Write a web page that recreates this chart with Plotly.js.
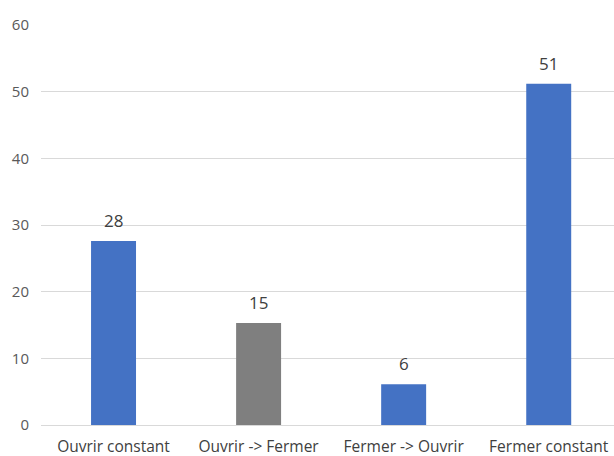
<!DOCTYPE html>
<html>
<head>
<meta charset="utf-8">
<script src="https://cdn.plot.ly/plotly-3.0.1.min.js"></script>
<style>html,body{margin:0;padding:0;background:#fff;}#chart{width:614px;height:456px;}</style>
</head>
<body>
<div id="chart"></div>
<script>
var categories = ["Ouvrir constant", "Ouvrir -> Fermer", "Fermer -> Ouvrir", "Fermer constant"];
var values = [27.6, 15.3, 6.1, 51.2];
var labels = ["28", "15", "6", "51"];
var barColors = ["#4472C4", "#7F7F7F", "#4472C4", "#4472C4"];
var yTicks = [0, 10, 20, 30, 40, 50, 60];

var trace = {
  type: "bar",
  x: categories,
  y: values,
  marker: {color: barColors},
  hoverinfo: "skip"
};

var annotations = categories.map(function (c, i) {
  return {
    x: c, y: values[i], text: labels[i],
    xref: "x", yref: "y",
    yanchor: "bottom", xanchor: "center",
    yshift: 7, showarrow: false,
    font: {family: "Open Sans, sans-serif", size: 17, color: "#404040"}
  };
});

var layout = {
  width: 614, height: 456,
  margin: {l: 41, r: 0, t: 25, b: 31},
  paper_bgcolor: "#fff", plot_bgcolor: "#fff",
  bargap: 0.69,
  showlegend: false,
  xaxis: {
    type: "category",
    range: [-0.5, 3.45],
    showgrid: false,
    showline: false,
    zeroline: false,
    ticks: "outside",
    ticklen: 7,
    tickcolor: "rgba(0,0,0,0)",
    tickfont: {family: "Open Sans, sans-serif", size: 15.5, color: "#404040"},
    fixedrange: true
  },
  yaxis: {
    range: [0, 60],
    tickvals: yTicks,
    ticktext: yTicks.map(String),
    showgrid: true,
    gridcolor: "#d9d9d9",
    gridwidth: 1,
    zeroline: true,
    zerolinecolor: "#d9d9d9",
    zerolinewidth: 1,
    showline: false,
    ticks: "outside",
    ticklen: 8,
    tickcolor: "rgba(0,0,0,0)",
    tickfont: {family: "Open Sans, sans-serif", size: 15, color: "#595959"},
    fixedrange: true
  },
  annotations: annotations
};

Plotly.newPlot("chart", [trace], layout, {displayModeBar: false, staticPlot: true});
</script>
</body>
</html>
